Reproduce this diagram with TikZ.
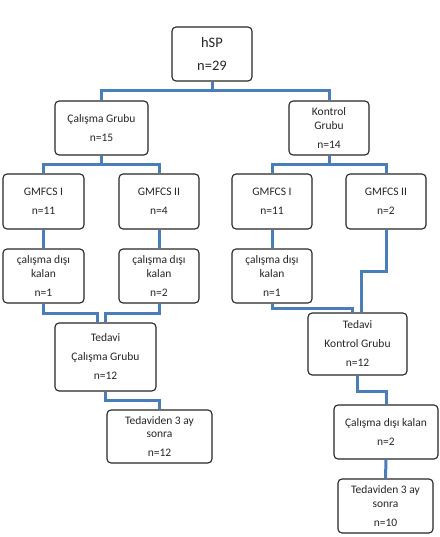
\documentclass[tikz,border=0pt]{standalone}
\usepackage{fontspec}
\setmainfont{Carlito}
\usepackage{tikz}
\usetikzlibrary{positioning}
\definecolor{linkblue}{RGB}{74,126,187}
\tikzset{
x=1pt, y=-1pt, % picture measured like the page, y going down
box/.style={draw=black!85, line width=1.1pt, rounded corners=4pt, fill=white,
  align=center, inner sep=0pt, text=black!85, font=\fontsize{11.5}{13.5}\selectfont}, % every rounded box
link/.style={draw=linkblue, line width=3pt}, % the blue connectors
}

\begin{document}
\begin{tikzpicture}
  \useasboundingbox (0,0) rectangle (439,537);
  % top of the tree
  \node[box, minimum width=80, minimum height=54, font=\fontsize{14.5}{17}\selectfont] (hsp) at (212,54) {hSP\\[6pt]n=29};
  \node[box, minimum width=93, minimum height=54] (calisma) at (101.5,128) {Çalışma Grubu\\[5.5pt]n=15};
  \node[box, minimum width=80, minimum height=54] (kontrol) at (329,128) {Kontrol\\Grubu\\[5.5pt]n=14};
  % GMFCS levels
  \node[box, minimum width=81, minimum height=55] (gmfcsA) at (43.5,201.5) {GMFCS I\\[5.5pt]n=11};
  \node[box, minimum width=80, minimum height=55] (gmfcsB) at (159,201.5) {GMFCS II\\[5.5pt]n=4};
  \node[box, minimum width=80, minimum height=55] (gmfcsC) at (272,201.5) {GMFCS I\\[5.5pt]n=11};
  \node[box, minimum width=80, minimum height=55] (gmfcsD) at (386,201.5) {GMFCS II\\[5.5pt]n=2};
  % drop outs
  \node[box, minimum width=81, minimum height=54] (disiA) at (43.5,276) {çalışma dışı\\kalan\\[5.5pt]n=1};
  \node[box, minimum width=80, minimum height=54] (disiB) at (159,276) {çalışma dışı\\kalan\\[5.5pt]n=2};
  \node[box, minimum width=80, minimum height=54] (disiC) at (272,276) {çalışma dışı\\kalan\\[5.5pt]n=1};
  % treatment
  \node[box, minimum width=101, minimum height=68] (tedaviA) at (105.5,357) {Tedavi\\[5.5pt]Çalışma Grubu\\[5.5pt]n=12};
  \node[box, minimum width=99, minimum height=62] (tedaviB) at (357.5,344) {Tedavi\\[5.5pt]Kontrol Grubu\\[5.5pt]n=12};
  \node[box, minimum width=104, minimum height=54] (disiD) at (386,432) {Çalışma dışı kalan\\[5.5pt]n=2};
  % after three months
  \node[box, minimum width=105, minimum height=53] (sonraA) at (159.5,436.5) {Tedaviden 3 ay\\sonra\\[5.5pt]n=12};
  \node[box, minimum width=95, minimum height=54] (sonraB) at (385.5,506) {Tedaviden 3 ay\\sonra\\[5.5pt]n=10};

  \draw[link] (hsp.south) -- ++(0,9) -| (calisma.north);
  \draw[link] (hsp.south) -- ++(0,9) -| (kontrol.north);
  \draw[link] (calisma.south) -- ++(0,9) -| (gmfcsA.north);
  \draw[link] (calisma.south) -- ++(0,9) -| (gmfcsB.north);
  \draw[link] (kontrol.south) -- ++(0,9) -| (gmfcsC.north);
  \draw[link] (kontrol.south) -- ++(0,9) -| (gmfcsD.north);
  \draw[link] (gmfcsA) -- (disiA);
  \draw[link] (gmfcsB) -- (disiB);
  \draw[link] (gmfcsC) -- (disiC);
  \draw[link] (disiA.south) -- ++(0,10) -| ([xshift=-8]tedaviA.north);
  \draw[link] (disiB.south) -- ++(0,10) -| (tedaviA.north);
  \draw[link] (disiC.south) -- ++(0,5) -| ([xshift=-5.5]tedaviB.north);
  \draw[link] (gmfcsD.south) -- ++(0,42) -| ([xshift=3.5]tedaviB.north);
  \draw[link] (tedaviA.south) -- ++(0,9) -| (sonraA.north);
  \draw[link] (tedaviB.south) -- ++(0,16) -| (disiD.north);
  \draw[link] (disiD.south) -- (sonraB.north);
\end{tikzpicture}
\end{document}
